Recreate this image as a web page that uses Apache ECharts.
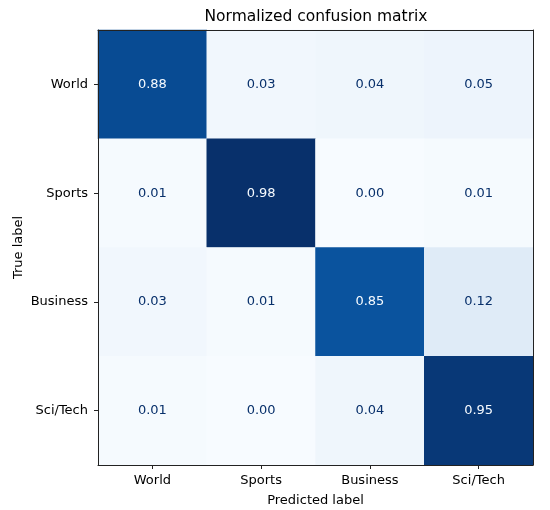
<!DOCTYPE html>
<html>
<head>
<meta charset="utf-8">
<script src="https://cdn.jsdelivr.net/npm/echarts@6/dist/echarts.min.js"></script>
<style>
	html, body { margin: 0; padding: 0; background: #fff; }
	#chart { width: 550px; height: 510px; }
</style>
</head>
<body>
<div id="chart"></div>
<script>
// class names, same order on both axes
var classes = ['World', 'Sports', 'Business', 'Sci/Tech'];

// rows = true label, cols = predicted label
var rowWorld = [0.88, 0.03, 0.04, 0.05];
var rowSports = [0.01, 0.98, 0.00, 0.01];
var rowBusiness = [0.03, 0.01, 0.85, 0.12];
var rowSciTech = [0.01, 0.00, 0.04, 0.95];

var rows = [rowWorld, rowSports, rowBusiness, rowSciTech];

// matplotlib Blues
var blues = ['#f7fbff', '#deebf7', '#c6dbef', '#9ecae1', '#6baed6', '#4292c6', '#2171b5', '#08519c', '#08306b'];

var vMin = 0;
var vMax = 0.98;
var font = 'DejaVu Sans';

var cells = [];
rows.forEach(function (row, r) {
	row.forEach(function (v, c) {
		// text colour flips at mid of the colour range like sklearn
		var dark = v > (vMin + vMax) / 2;
		cells.push({
			value: [c, r, v],
			label: { color: dark ? '#f7fbff' : '#08306b' }
		});
	});
});

var chart = echarts.init(document.getElementById('chart'));

var frameAxis = {
	z: 5,
	axisLine: { show: true, lineStyle: { color: '#222', width: 1 } },
	axisTick: { show: false },
	axisLabel: { show: false },
	splitLine: { show: false }
};

chart.setOption({
	animation: false,
	backgroundColor: '#fff',
	title: {
		text: 'Normalized confusion matrix',
		left: 311,
		textAlign: 'center',
		top: 4,
		textStyle: { fontFamily: font, fontSize: 15.5, fontWeight: 'normal', color: '#000' }
	},
	grid: { left: 98, top: 30, width: 435, height: 435, outerBoundsMode: 'none' },
	xAxis: [{
		type: 'category',
		data: classes,
		position: 'bottom',
		z: 5,
		name: 'Predicted label',
		nameLocation: 'middle',
		nameGap: 29,
		nameTextStyle: { fontFamily: font, fontSize: 13, color: '#000' },
		axisLine: { lineStyle: { color: '#222', width: 1 } },
		axisTick: { show: true, alignWithLabel: true, length: 4, lineStyle: { color: '#222' } },
		axisLabel: { fontFamily: font, fontSize: 13, color: '#000', margin: 9 },
		splitLine: { show: false }
	}, Object.assign({ type: 'category', data: classes, position: 'top', gridIndex: 0 }, frameAxis)],
	yAxis: [{
		type: 'category',
		data: classes,
		inverse: true,
		z: 5,
		name: 'True label',
		nameLocation: 'middle',
		nameGap: 73,
		nameMoveOverlap: false,
		nameTextStyle: { fontFamily: font, fontSize: 13, color: '#000' },
		axisLine: { lineStyle: { color: '#222', width: 1 } },
		axisTick: { show: true, alignWithLabel: true, length: 4, lineStyle: { color: '#222' } },
		axisLabel: { fontFamily: font, fontSize: 13, color: '#000', margin: 10 },
		splitLine: { show: false }
	}, Object.assign({ type: 'category', data: classes, position: 'right', inverse: true, gridIndex: 0 }, frameAxis)],
	visualMap: {
		show: false,
		min: vMin,
		max: vMax,
		dimension: 2,
		inRange: { color: blues }
	},
	series: [{
		type: 'heatmap',
		xAxisIndex: 0,
		yAxisIndex: 0,
		data: cells,
		label: {
			show: true,
			fontFamily: font,
			fontSize: 13,
			formatter: function (p) { return p.value[2].toFixed(2); }
		},
		itemStyle: { borderWidth: 0 },
		emphasis: { disabled: true }
	}]
});
</script>
</body>
</html>
